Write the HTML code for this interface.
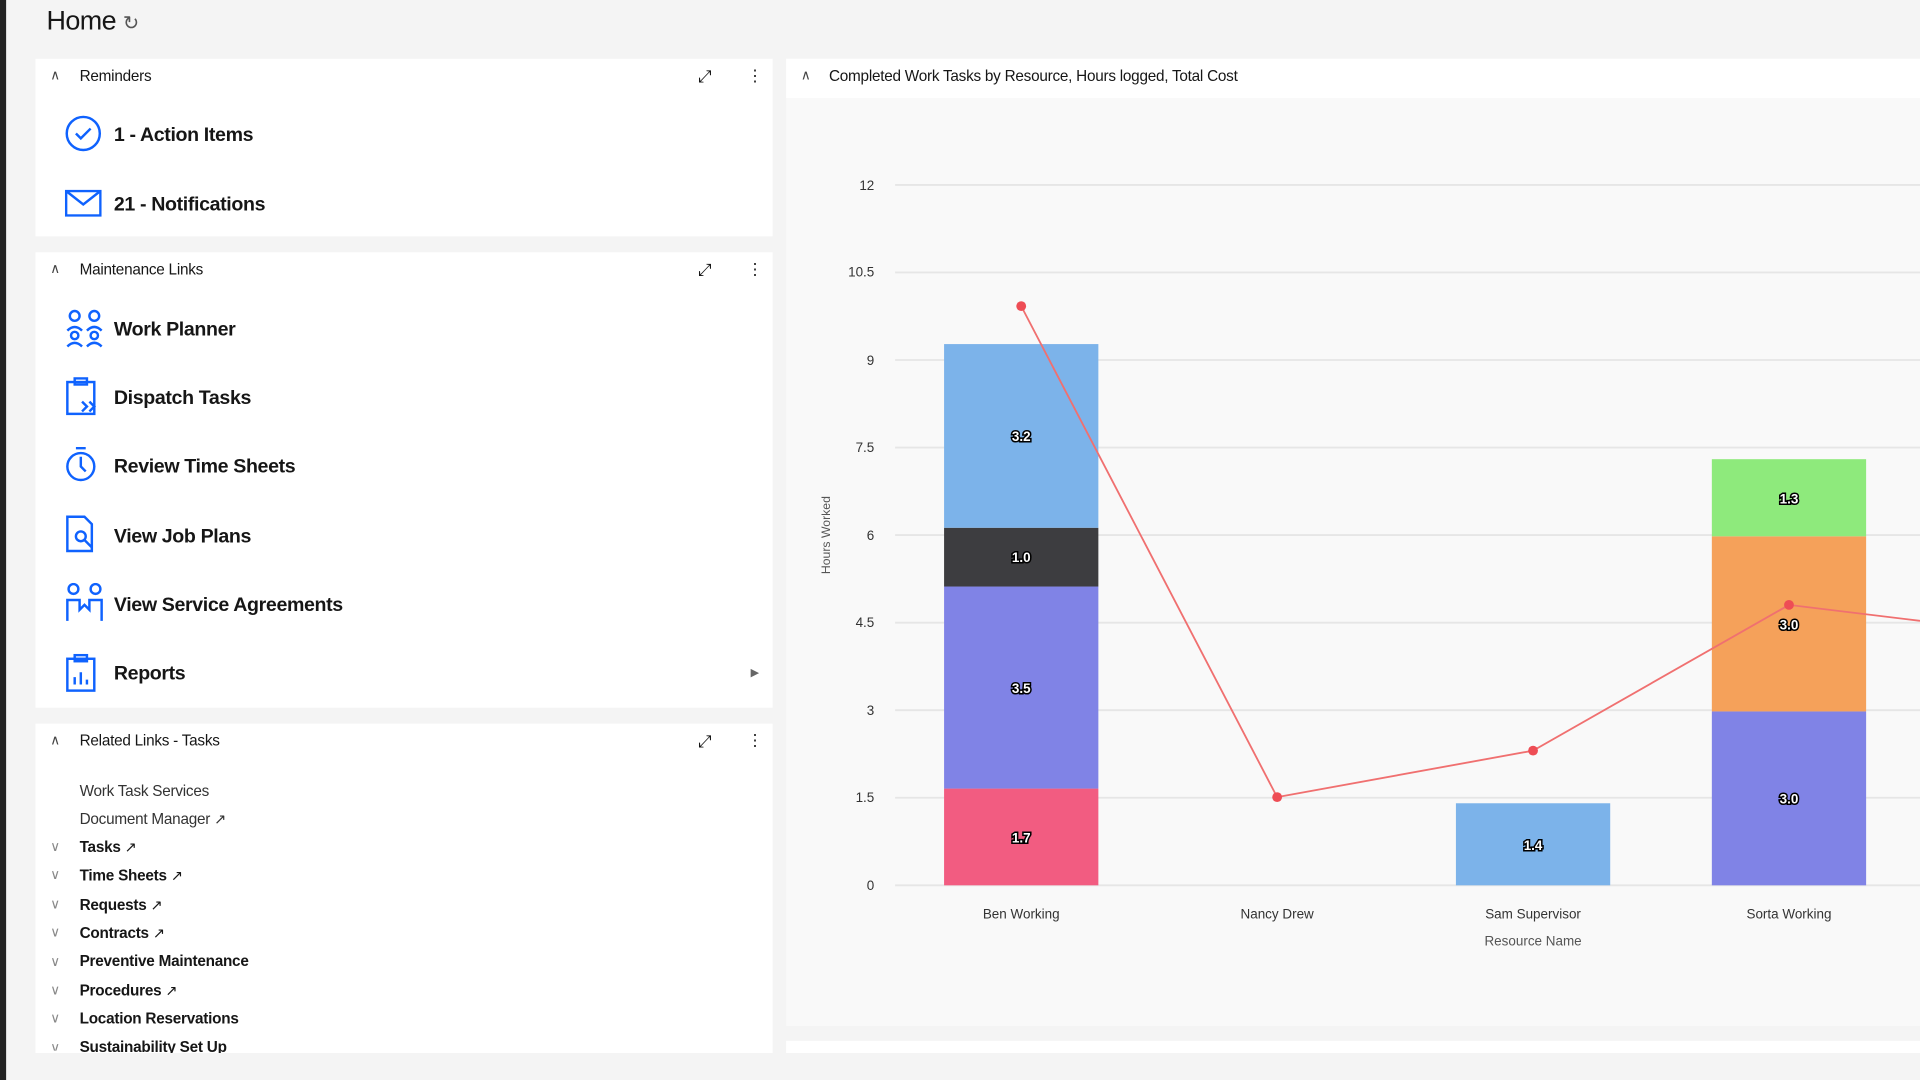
<!DOCTYPE html>
<html><head><meta charset="utf-8"><style>
*{margin:0;padding:0;box-sizing:border-box}
html,body{width:1920px;height:1080px;overflow:hidden;background:#f4f4f4;font-family:"Liberation Sans",sans-serif;color:#161616}
#s{position:absolute;left:0;top:0;width:1568px;height:882px;transform:scale(1.22449);transform-origin:0 0;background:#f4f4f4}
.a{position:absolute}
.p{position:absolute;background:#fff}
.ht{font-size:12.5px;position:absolute;letter-spacing:-0.2px}
.big{font-size:16px;font-weight:bold;position:absolute;left:93px;letter-spacing:-0.3px}
.sm{font-size:12.5px;position:absolute;left:65px;letter-spacing:-0.2px}
.b{font-weight:bold}
.ch{position:absolute;left:40px;font-size:11px;color:#444}
</style></head><body><div id="s">
<div class="a" style="left:0;top:0;width:5px;height:882px;background:#222"></div>
<div class="a" style="left:38px;top:4px;font-size:22px;letter-spacing:-0.5px">Home <span style="font-size:16px;color:#555">&#x21bb;</span></div>

<!-- Reminders -->
<div class="p" style="left:29px;top:48px;width:602px;height:145px">
<div class="ch" style="left:12px;top:7px">&#x2227;</div>
<div class="ht" style="left:36px;top:7px">Reminders</div>
<div class="a" style="left:541px;top:6px;font-size:14px">&#x2922;</div>
<div class="a" style="left:581px;top:6px;font-size:13px">&#x22ee;</div>
<svg class="a" style="left:24px;top:46px" width="30" height="30"><circle cx="15" cy="15" r="13.5" fill="none" stroke="#0f62fe" stroke-width="2"/><path d="M9 15l4 4 8-8" fill="none" stroke="#0f62fe" stroke-width="2"/></svg>
<div class="big" style="left:64px;top:54px">1 - Action Items</div>
<svg class="a" style="left:24px;top:107px" width="30" height="22"><rect x="1" y="1" width="28" height="20" fill="none" stroke="#0f62fe" stroke-width="2"/><path d="M1 1l14 11 14-11" fill="none" stroke="#0f62fe" stroke-width="2"/></svg>
<div class="big" style="left:64px;top:111px">21 - Notifications</div>
</div>

<!-- Maintenance -->
<div class="p" style="left:29px;top:206px;width:602px;height:372px">
<div class="ch" style="left:12px;top:7px">&#x2227;</div>
<div class="ht" style="left:36px;top:7px">Maintenance Links</div>
<div class="a" style="left:541px;top:6px;font-size:14px">&#x2922;</div>
<div class="a" style="left:581px;top:6px;font-size:13px">&#x22ee;</div>
<svg class="a" style="left:24px;top:46px" width="32" height="32" fill="none" stroke="#0f62fe" stroke-width="2"><circle cx="8" cy="6" r="4"/><circle cx="24" cy="6" r="4"/><path d="M2 18q6-6 12 0M18 18q6-6 12 0"/><circle cx="8" cy="22" r="3"/><circle cx="24" cy="22" r="3"/><path d="M2 31q6-6 12 0M18 31q6-6 12 0"/></svg>
<div class="big" style="left:64px;top:55px">Work Planner</div>
<svg class="a" style="left:24px;top:102px" width="30" height="32" fill="none" stroke="#0f62fe" stroke-width="2"><rect x="2" y="4" width="22" height="26"/><rect x="8" y="1" width="10" height="5"/><path d="M14 20l4 4-4 4M20 20l4 4-4 4"/></svg>
<div class="big" style="left:64px;top:111px">Dispatch Tasks</div>
<svg class="a" style="left:24px;top:158px" width="30" height="32" fill="none" stroke="#0f62fe" stroke-width="2"><circle cx="13" cy="17" r="11"/><path d="M9 2h8M13 9v8l4 4"/></svg>
<div class="big" style="left:64px;top:167px">Review Time Sheets</div>
<svg class="a" style="left:24px;top:214px" width="30" height="32" fill="none" stroke="#0f62fe" stroke-width="2"><path d="M2 2h14l6 6v22H2z"/><circle cx="13" cy="18" r="4"/><path d="M16 21l6 6"/></svg>
<div class="big" style="left:64px;top:224px">View Job Plans</div>
<svg class="a" style="left:24px;top:270px" width="32" height="32" fill="none" stroke="#0f62fe" stroke-width="2"><circle cx="7" cy="5" r="4"/><circle cx="25" cy="5" r="4"/><path d="M2 31V14h10v8l4-4 4 4v-8h10v17"/></svg>
<div class="big" style="left:64px;top:280px">View Service Agreements</div>
<svg class="a" style="left:24px;top:328px" width="28" height="32" fill="none" stroke="#0f62fe" stroke-width="2"><rect x="2" y="4" width="22" height="26"/><rect x="8" y="1" width="10" height="5"/><path d="M8 25v-6M13 25v-10M18 25v-4"/></svg>
<div class="big" style="left:64px;top:336px">Reports</div>
<div class="a" style="left:584px;top:338px;font-size:9px;color:#666">&#x25B6;</div>
</div>

<!-- Related -->
<div class="p" style="left:29px;top:591px;width:602px;height:269px;overflow:hidden">
<div class="ch" style="left:12px;top:7px">&#x2227;</div>
<div class="ht" style="left:36px;top:7px">Related Links - Tasks</div>
<div class="a" style="left:541px;top:6px;font-size:14px">&#x2922;</div>
<div class="a" style="left:581px;top:6px;font-size:13px">&#x22ee;</div>
</div>
<div class="sm" style="top:639px;color:#333">Work Task Services</div>
<div class="sm" style="top:662px;color:#333">Document Manager <span style="font-size:12px">&#x2197;</span></div>
<div class="sm b" style="top:685px">Tasks <span style="font-size:12px;font-weight:normal">&#x2197;</span></div>
<div class="sm b" style="top:708px">Time Sheets <span style="font-size:12px;font-weight:normal">&#x2197;</span></div>
<div class="sm b" style="top:732px">Requests <span style="font-size:12px;font-weight:normal">&#x2197;</span></div>
<div class="sm b" style="top:755px">Contracts <span style="font-size:12px;font-weight:normal">&#x2197;</span></div>
<div class="sm b" style="top:778px">Preventive Maintenance</div>
<div class="sm b" style="top:802px">Procedures <span style="font-size:12px;font-weight:normal">&#x2197;</span></div>
<div class="sm b" style="top:825px">Location Reservations</div>
<div class="sm b" style="top:848px;height:12px;overflow:hidden">Sustainability Set Up</div>
<div class="a" style="left:41px;top:681px;font-size:11px;color:#888;line-height:23.4px;width:14px">&#x2228;<br>&#x2228;<br>&#x2228;<br>&#x2228;<br>&#x2228;<br>&#x2228;<br>&#x2228;<br><span style="display:block;height:13px;overflow:hidden">&#x2228;</span></div>

<!-- Chart panel -->
<div class="p" style="left:642px;top:48px;width:926px;height:790px;background:#f9f9f9">
<div class="a" style="left:0;top:0;width:926px;height:32px;background:#fff"></div>
<div class="ch" style="left:12px;top:7px">&#x2227;</div>
<div class="ht" style="left:35px;top:7px">Completed Work Tasks by Resource, Hours logged, Total Cost</div>
</div>
<div class="a" style="left:642px;top:850px;width:926px;height:10px;background:#fff"></div>

<svg class="a" style="left:0;top:0" width="1568" height="882" font-family="Liberation Sans, sans-serif">
<g stroke="#e6e6e6" stroke-width="1.5">
<line x1="731" x2="1568" y1="151" y2="151"/><line x1="731" x2="1568" y1="222.5" y2="222.5"/><line x1="731" x2="1568" y1="294" y2="294"/><line x1="731" x2="1568" y1="365.5" y2="365.5"/><line x1="731" x2="1568" y1="437" y2="437"/><line x1="731" x2="1568" y1="508.5" y2="508.5"/><line x1="731" x2="1568" y1="580" y2="580"/><line x1="731" x2="1568" y1="651.5" y2="651.5"/><line x1="731" x2="1568" y1="723" y2="723"/>
</g>
<g font-size="11" fill="#333" text-anchor="end">
<text x="714" y="155">12</text><text x="714" y="226">10.5</text><text x="714" y="298">9</text><text x="714" y="369">7.5</text><text x="714" y="441">6</text><text x="714" y="512">4.5</text><text x="714" y="584">3</text><text x="714" y="655">1.5</text><text x="714" y="727">0</text>
</g>
<text transform="translate(678,437) rotate(-90)" font-size="10" fill="#555" text-anchor="middle">Hours Worked</text>
<rect x="771" y="644" width="126" height="79" fill="#f25c81"/>
<rect x="771" y="479" width="126" height="165" fill="#8083e6"/>
<rect x="771" y="431" width="126" height="48" fill="#3d3d40"/>
<rect x="771" y="281" width="126" height="150" fill="#7cb3ea"/>
<rect x="1189" y="656" width="126" height="67" fill="#7cb3ea"/>
<rect x="1398" y="581" width="126" height="142" fill="#8083e6"/>
<rect x="1398" y="438" width="126" height="143" fill="#f5a15a"/>
<rect x="1398" y="375" width="126" height="63" fill="#8eea7c"/>
<g font-size="11" font-weight="bold" fill="#fff" stroke="#000" stroke-width="2.5" paint-order="stroke" text-anchor="middle">
<text x="834" y="688">1.7</text><text x="834" y="566">3.5</text><text x="834" y="459">1.0</text><text x="834" y="360">3.2</text>
<text x="1252" y="694">1.4</text><text x="1461" y="656">3.0</text><text x="1461" y="514">3.0</text><text x="1461" y="411">1.3</text>
</g>
<polyline points="834,250 1043,651 1252,613 1461,494 1568,507" fill="none" stroke="#f07070" stroke-width="1.5"/>
<g fill="#ee4d55"><circle cx="834" cy="250" r="4"/><circle cx="1043" cy="651" r="4"/><circle cx="1252" cy="613" r="4"/><circle cx="1461" cy="494" r="4"/></g>
<g font-size="11" fill="#333" text-anchor="middle">
<text x="834" y="750">Ben Working</text><text x="1043" y="750">Nancy Drew</text><text x="1252" y="750">Sam Supervisor</text><text x="1461" y="750">Sorta Working</text>
<text x="1252" y="772" fill="#555">Resource Name</text>
</g>
</svg>
</div></body></html>
